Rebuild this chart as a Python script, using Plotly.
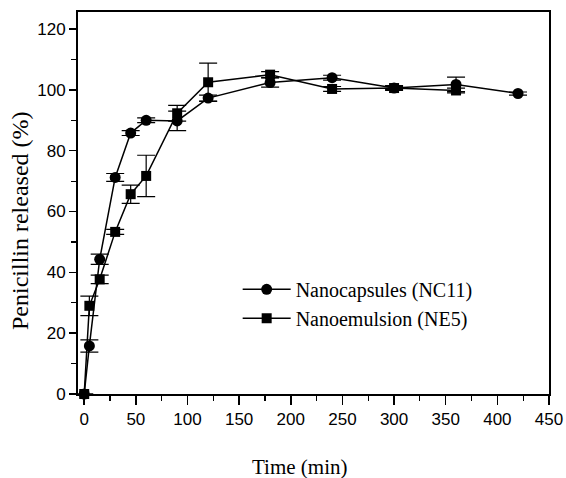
import plotly.graph_objects as go

time_nc = [0, 5, 15, 30, 45, 60, 90, 120, 180, 240, 300, 360, 420]
nc11 = [0, 15.8, 44.3, 71.2, 85.8, 90.0, 89.8, 97.3, 102.4, 104.0, 100.6, 101.8, 98.8]
nc11_err = [0, 2.0, 1.7, 1.3, 0.8, 0.8, 3.2, 1.0, 1.5, 0.8, 0.5, 2.4, 0.5]

time_ne = [0, 5, 15, 30, 45, 60, 90, 120, 180, 240, 300, 360]
ne5 = [0, 29.0, 37.7, 53.3, 65.7, 71.7, 92.3, 102.5, 105.0, 100.3, 100.6, 99.8]
ne5_err = [0, 3.2, 1.4, 0.8, 3.0, 6.8, 2.6, 6.3, 1.0, 0.8, 0.8, 0.8]

x_ticks = [0, 50, 100, 150, 200, 250, 300, 350, 400, 450]
y_ticks = [0, 20, 40, 60, 80, 100, 120]

fig = go.Figure()
fig.add_trace(go.Scatter(
    x=time_nc, y=nc11, name="Nanocapsules (NC11)", mode="lines+markers",
    line=dict(color="black", width=1.5),
    marker=dict(symbol="circle", size=11, color="black"),
    error_y=dict(type="data", array=nc11_err, color="black", thickness=1.2, width=9),
    cliponaxis=False,
))
fig.add_trace(go.Scatter(
    x=time_ne, y=ne5, name="Nanoemulsion (NE5)", mode="lines+markers",
    line=dict(color="black", width=1.5),
    marker=dict(symbol="square", size=10, color="black"),
    error_y=dict(type="data", array=ne5_err, color="black", thickness=1.2, width=9),
    cliponaxis=False,
))

serif = "Liberation Serif, Times New Roman, serif"
tick_font = dict(family="Liberation Sans, Arial, sans-serif", size=17, color="black")
fig.update_layout(
    width=566, height=478, autosize=False,
    margin=dict(l=78, r=17, t=12, b=84),
    paper_bgcolor="white", plot_bgcolor="white",
    showlegend=True,
    legend=dict(
        x=0.339, y=0.325, xanchor="left", yanchor="top",
        bgcolor="rgba(0,0,0,0)", borderwidth=0, itemwidth=48,
        font=dict(family=serif, size=20, color="black"),
        tracegroupgap=0,
    ),
    xaxis=dict(
        range=[-6, 450], tickvals=x_ticks, ticks="outside", ticklen=9, tickwidth=1.5,
        tickcolor="black", showline=True, linecolor="black", linewidth=2, mirror=True,
        showgrid=False, zeroline=False, tickfont=tick_font, automargin=False,
        minor=dict(dtick=25, tick0=0, ticks="outside", ticklen=5, tickwidth=1.2, tickcolor="black", showgrid=False),
    ),
    yaxis=dict(
        range=[0, 125.6], tickvals=y_ticks, ticks="outside", ticklen=7, tickwidth=1.5,
        tickcolor="black", showline=True, linecolor="black", linewidth=2, mirror=True,
        showgrid=False, zeroline=False, tickfont=tick_font, automargin=False,
        minor=dict(dtick=10, tick0=0, ticks="outside", ticklen=5, tickwidth=1.2, tickcolor="black", showgrid=False),
    ),
    annotations=[
        dict(text="Time (min)", xref="paper", yref="paper", x=0.471, y=-0.191,
             xanchor="center", yanchor="middle", showarrow=False,
             font=dict(family=serif, size=21, color="black")),
        dict(text="Penicillin released (%)", xref="paper", yref="paper", x=-0.123, y=0.453,
             xanchor="center", yanchor="middle", showarrow=False, textangle=-90,
             font=dict(family=serif, size=24, color="black")),
    ],
)

fig.write_html(
    "out.html",
    config={"responsive": False, "displayModeBar": False, "staticPlot": True},
    post_script="document.body.style.margin='0px';document.body.style.overflow='hidden';",
)
